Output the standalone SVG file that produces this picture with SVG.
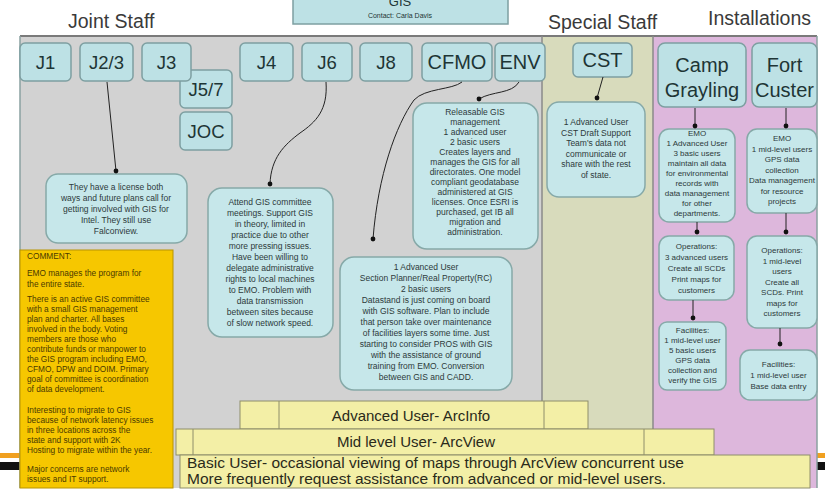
<svg xmlns="http://www.w3.org/2000/svg" width="825" height="493" viewBox="0 0 825 493">
<defs>
<marker id="dot" markerWidth="6" markerHeight="6" refX="3" refY="3" markerUnits="userSpaceOnUse"><circle cx="3" cy="3" r="2.4" fill="#111"/></marker>
</defs>
<style>
.hdr{font-family:"Liberation Sans",Arial,sans-serif;font-size:19.5px;fill:#3a3a3a}
.node rect{fill:#bde1e5;stroke:#7e9fa1;stroke-width:1.5}
.node text{font-family:"Liberation Sans",Arial,sans-serif;font-size:18.5px;fill:#1e3535;text-anchor:middle}
.big text{font-size:20px}
.note rect{fill:#c6e7ea;stroke:#86a9a8;stroke-width:1.5}
.note text{font-family:"Liberation Sans",Arial,sans-serif;font-size:8.5px;fill:#2d3a3a;text-anchor:middle}
.inst text{font-size:8px}
.conn path{fill:none;stroke:#222;stroke-width:1;marker-end:url(#dot)}
.bar rect{fill:#f3efa6;stroke:#8e8e6a;stroke-width:1}
.bar line{stroke:#8e8e6a;stroke-width:1}
.bar text{font-family:"Liberation Sans",Arial,sans-serif;font-size:15px;fill:#2a2a1a}
.cmt text{font-family:"Liberation Sans",Arial,sans-serif;font-size:8.3px;fill:#4a3a00}
</style>
<rect x="0" y="0" width="825" height="493" fill="#ffffff"/>

<!-- slide decoration lines -->
<rect x="0" y="453" width="825" height="5" fill="#f0a020"/>
<rect x="0" y="462" width="825" height="8" fill="#111111"/>

<!-- panels -->
<g id="panels">
<rect x="20" y="36" width="522" height="452" fill="#d2d2d2"/>
<rect x="542" y="36" width="111" height="452" fill="#d8dbbc"/>
<rect x="653" y="36" width="164" height="452" fill="#ddb7dc"/>
<line x1="20" y1="36" x2="817" y2="36" stroke="#7a7a7a" stroke-width="2"/>
<line x1="542" y1="36" x2="542" y2="488" stroke="#8a8a8a" stroke-width="1.5"/>
<line x1="653" y1="36" x2="653" y2="488" stroke="#8a8a8a" stroke-width="1.5"/>
<line x1="20" y1="36" x2="20" y2="488" stroke="#8aa0a0" stroke-width="1.5"/>
<line x1="817" y1="36" x2="817" y2="488" stroke="#8aa0a0" stroke-width="1.5"/>
</g>

<!-- headers -->
<text class="hdr" x="68" y="28">Joint Staff</text>
<text class="hdr" x="548" y="29">Special Staff</text>
<text class="hdr" x="708" y="25">Installations</text>

<g id="gis" class="node">
<rect x="293" y="-4" width="215" height="28"/>
<text x="400" y="6" style="font-size:13px">GIS</text>
<text x="400" y="17.5" style="font-size:7px">Contact: Carla Davis</text>
</g>

<!-- top nodes -->
<g id="j1" class="node"><rect x="20" y="43" width="51" height="38" rx="5"/><text x="45.5" y="69">J1</text></g>
<g id="j23" class="node"><rect x="80" y="43" width="53" height="38" rx="5"/><text x="106.5" y="69">J2/3</text></g>
<g id="j57" class="node"><rect x="180" y="70" width="52" height="38" rx="5"/><text x="206" y="96">J5/7</text></g>
<g id="joc" class="node"><rect x="180" y="112" width="52" height="38" rx="5"/><text x="206" y="138">JOC</text></g>
<g id="j3" class="node"><rect x="142" y="43" width="49" height="38" rx="5"/><text x="166.5" y="69">J3</text></g>
<g id="j4" class="node"><rect x="240" y="43" width="53" height="38" rx="5"/><text x="266.5" y="69">J4</text></g>
<g id="j6" class="node"><rect x="302" y="43" width="50" height="38" rx="5"/><text x="327" y="69">J6</text></g>
<g id="j8" class="node"><rect x="360" y="43" width="52" height="38" rx="5"/><text x="386" y="69">J8</text></g>
<g id="cfmo" class="node big"><rect x="422" y="43" width="70" height="38" rx="5"/><text x="457" y="69">CFMO</text></g>
<g id="env" class="node big"><rect x="495" y="43" width="50" height="38" rx="5"/><text x="520" y="69">ENV</text></g>
<g id="cst" class="node big"><rect x="573" y="43" width="59" height="34" rx="5"/><text x="602.5" y="67">CST</text></g>
<g id="camp" class="node big"><rect x="658" y="43" width="88" height="64" rx="7"/><text x="702" y="72">Camp</text><text x="702" y="97">Grayling</text></g>
<g id="fort" class="node big"><rect x="752" y="43" width="65" height="64" rx="7"/><text x="784.5" y="72">Fort</text><text x="784.5" y="97">Custer</text></g>

<!-- notes -->
<g id="n-j23" class="note"><rect x="46" y="174" width="141" height="69" rx="12"/>
<text x="116" y="190">They have a license both</text>
<text x="116" y="201">ways and future plans call for</text>
<text x="116" y="212">getting involved with GIS for</text>
<text x="116" y="223">Intel.  They still use</text>
<text x="116" y="234">Falconview.</text>
</g>

<g id="n-j6" class="note"><rect x="208" y="188" width="125" height="149" rx="14"/>
<text x="270" y="205">Attend GIS committee</text>
<text x="270" y="216">meetings.  Support GIS</text>
<text x="270" y="227">in theory, limited in</text>
<text x="270" y="238">practice due to other</text>
<text x="270" y="249">more pressing issues.</text>
<text x="270" y="260">Have been willing to</text>
<text x="270" y="271">delegate administrative</text>
<text x="270" y="282">rights to local machines</text>
<text x="270" y="293">to EMO.  Problem with</text>
<text x="270" y="304">data transmission</text>
<text x="270" y="315">between sites because</text>
<text x="270" y="326">of slow network speed.</text>
</g>

<g id="n-cfmo" class="note"><rect x="340" y="257" width="172" height="133" rx="14"/>
<text x="426" y="270">1 Advanced User</text>
<text x="426" y="281">Section Planner/Real Property(RC)</text>
<text x="426" y="292">2 basic users</text>
<text x="426" y="303">Datastand is just coming on board</text>
<text x="426" y="314">with GIS software.  Plan to include</text>
<text x="426" y="325">that person take over maintenance</text>
<text x="426" y="336">of facilities layers some time.  Just</text>
<text x="426" y="347">starting to consider PROS with GIS</text>
<text x="426" y="358">with the assistance of ground</text>
<text x="426" y="369">training from EMO.  Conversion</text>
<text x="426" y="380">between GIS and CADD.</text>
</g>

<g id="n-env" class="note"><rect x="413" y="103" width="125" height="146" rx="14"/>
<text x="475" y="115">Releasable GIS</text>
<text x="475" y="125">management</text>
<text x="475" y="135">1 advanced user</text>
<text x="475" y="145">2 basic users</text>
<text x="475" y="155">Creates layers and</text>
<text x="475" y="165">manages the GIS for all</text>
<text x="475" y="175">directorates.  One model</text>
<text x="475" y="185">compliant geodatabase</text>
<text x="475" y="195">administered at GIS</text>
<text x="475" y="205">licenses.  Once ESRI is</text>
<text x="475" y="215">purchased, get IB all</text>
<text x="475" y="225">migration and</text>
<text x="475" y="235">administration.</text>
</g>

<g id="n-cst" class="note"><rect x="547" y="102" width="98" height="95" rx="12"/>
<text x="596" y="125">1 Advanced User</text>
<text x="596" y="135.5">CST Draft Support</text>
<text x="596" y="146">Team's data not</text>
<text x="596" y="156.5">communicate or</text>
<text x="596" y="167">share with the rest</text>
<text x="596" y="177.5">of state.</text>
</g>

<g id="n-camp-emo" class="note inst"><rect x="659" y="129" width="76" height="93" rx="10"/>
<text x="697" y="136">EMO</text>
<text x="697" y="146">1 Advanced User</text>
<text x="697" y="156">3 basic users</text>
<text x="697" y="166">maintain all data</text>
<text x="697" y="176">for environmental</text>
<text x="697" y="186">records with</text>
<text x="697" y="196">data management</text>
<text x="697" y="206">for other</text>
<text x="697" y="216">departments.</text>
</g>
<g id="n-camp-ops" class="note inst"><rect x="659" y="236" width="75" height="64" rx="10"/>
<text x="696.5" y="249">Operations:</text>
<text x="696.5" y="260">3 advanced users</text>
<text x="696.5" y="271">Create all SCDs</text>
<text x="696.5" y="282">Print maps for</text>
<text x="696.5" y="293">customers</text>
</g>
<g id="n-camp-fac" class="note inst"><rect x="659" y="322" width="67" height="68" rx="8"/>
<text x="692.5" y="333">Facilities:</text>
<text x="692.5" y="343">1 mid-level user</text>
<text x="692.5" y="353">5 basic users</text>
<text x="692.5" y="363">GPS data</text>
<text x="692.5" y="373">collection and</text>
<text x="692.5" y="383">verify the GIS</text>
</g>

<g id="n-fort-emo" class="note inst"><rect x="747" y="129" width="70" height="84" rx="10"/>
<text x="782" y="141">EMO</text>
<text x="782" y="151.5">1 mid-level users</text>
<text x="782" y="162">GPS data</text>
<text x="782" y="172.5">collection</text>
<text x="782" y="183">Data management</text>
<text x="782" y="193.5">for resource</text>
<text x="782" y="204">projects</text>
</g>
<g id="n-fort-ops" class="note inst"><rect x="747" y="236" width="70" height="92" rx="10"/>
<text x="782" y="253">Operations:</text>
<text x="782" y="263.5">1 mid-level</text>
<text x="782" y="274">users</text>
<text x="782" y="284.5">Create all</text>
<text x="782" y="295">SCDs.  Print</text>
<text x="782" y="305.5">maps for</text>
<text x="782" y="316">customers</text>
</g>
<g id="n-fort-fac" class="note inst"><rect x="740" y="350" width="77" height="50" rx="10"/>
<text x="778.5" y="367">Facilities:</text>
<text x="778.5" y="378">1 mid-level user</text>
<text x="778.5" y="389">Base data entry</text>
</g>

<!-- connectors -->
<g id="connectors" class="conn">
<path d="M107,82 L116,171"/>
<path d="M326,82 C328,110 316,122 300,133 C284,145 271,158 270,184"/>
<path d="M462,82 C452,90 425,88 414,100 C396,125 378,175 373,239"/>
<path d="M519,82 C512,94 492,91 479,99"/>
<path d="M603,77 L597,98"/>
<path d="M695,108 L695,126"/>
<path d="M697,222 L697,232"/>
<path d="M693,300 L693,318"/>
<path d="M786,108 L786,126"/>
<path d="M786,213 L786,232"/>
<path d="M780,328 L780,344"/>
</g>

<!-- user level bars -->
<g id="bar-adv" class="bar">
<rect x="240" y="401" width="348" height="28"/>
<line x1="279" y1="401" x2="279" y2="429"/>
<line x1="544" y1="401" x2="544" y2="429"/>
<text x="411" y="421" text-anchor="middle">Advanced User- ArcInfo</text>
</g>
<g id="bar-mid" class="bar">
<rect x="176" y="429" width="538" height="26"/>
<line x1="193" y1="429" x2="193" y2="455"/>
<line x1="644" y1="429" x2="644" y2="455"/>
<text x="416" y="447" text-anchor="middle">Mid level User- ArcView</text>
</g>
<g id="bar-basic" class="bar">
<rect x="180" y="455" width="630" height="33"/>
<text x="187" y="468" style="font-size:15.5px">Basic User- occasional viewing of maps through ArcView concurrent use</text>
<text x="187" y="484" style="font-size:15.5px">More frequently request assistance from advanced or mid-level users.</text>
</g>

<!-- comment -->
<g id="comment" class="cmt">
<rect x="20" y="250" width="153" height="238" fill="#f6c700" stroke="#b89400" stroke-width="1"/>
<text x="27" y="259">COMMENT:</text>
<text x="27" y="276">EMO manages the program for</text>
<text x="27" y="287">the entire state.</text>
<text x="27" y="302">There is an active GIS committee</text>
<text x="27" y="312">with a small GIS management</text>
<text x="27" y="322">plan and charter.  All bases</text>
<text x="27" y="332">involved in the body.  Voting</text>
<text x="27" y="342">members are those who</text>
<text x="27" y="352">contribute funds or manpower to</text>
<text x="27" y="362">the GIS program including EMO,</text>
<text x="27" y="372">CFMO, DPW and DOIM.  Primary</text>
<text x="27" y="382">goal of committee is coordination</text>
<text x="27" y="392">of data development.</text>
<text x="27" y="413">Interesting to migrate to GIS</text>
<text x="27" y="423">because of network latency issues</text>
<text x="27" y="433">in three locations across the</text>
<text x="27" y="443">state and support with 2K</text>
<text x="27" y="453">Hosting to migrate within the year.</text>
<text x="27" y="472">Major concerns are network</text>
<text x="27" y="482">issues and IT support.</text>
</g>
</svg>
